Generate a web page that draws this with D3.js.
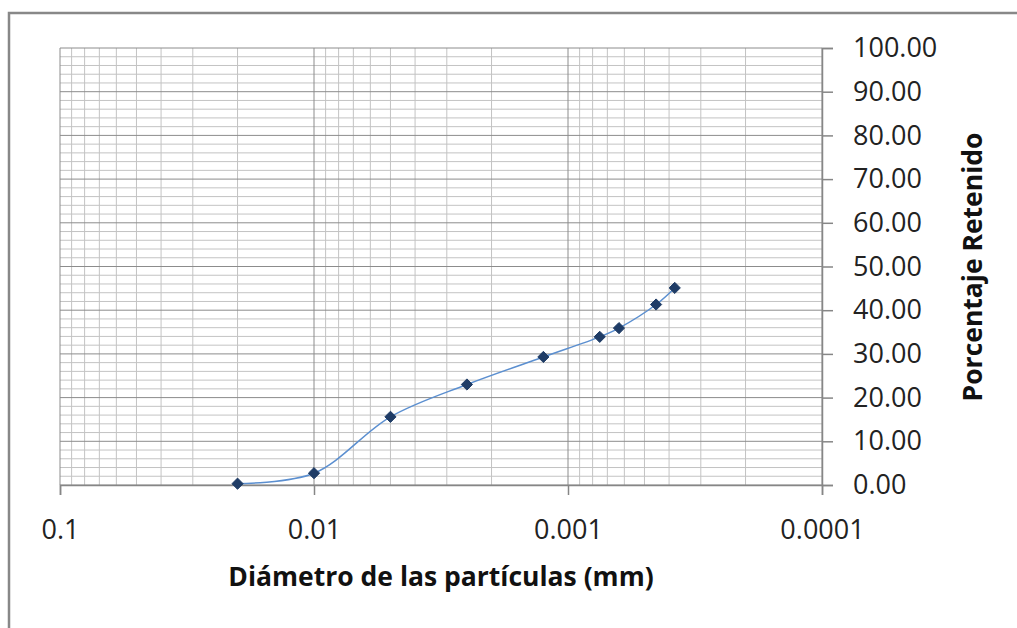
<!DOCTYPE html>
<html>
<head>
<meta charset="utf-8">
<script src="https://cdn.jsdelivr.net/npm/d3@7"></script>
<style>
  body { margin: 0; background: #fff; }
  svg { display: block; }
  .tick-label { font-family: "Open Sans", "Noto Sans", sans-serif; font-size: 27px; fill: #222; }
  .axis-title { font-family: "Open Sans", "Noto Sans", sans-serif; font-size: 26.5px; font-weight: bold; fill: #111; }
</style>
</head>
<body>
<div id="chart"></div>
<script>
// diameters (mm) and percent retained
var diameters = [0.02, 0.01, 0.005, 0.0025, 0.00125, 0.00075, 0.00063, 0.00045, 0.00038];
var retained = [0.3, 2.7, 15.6, 23.0, 29.3, 33.9, 35.9, 41.3, 45.1];
var xTickValues = [0.1, 0.01, 0.001, 0.0001];
var xTickLabels = ["0.1", "0.01", "0.001", "0.0001"];
var yTickValues = [0, 10, 20, 30, 40, 50, 60, 70, 80, 90, 100];

var width = 1017, height = 628;
var margin = {top: 48, right: 195, bottom: 143, left: 60};
var plotW = width - margin.left - margin.right,
    plotH = height - margin.top - margin.bottom;

var svg = d3.select('#chart').append('svg')
    .attr('width', width)
    .attr('height', height);

// chart frame (top and left edges visible)
svg.append('path')
    .attr('d', 'M9,' + height + 'V13H' + width)
    .attr('fill', 'none')
    .attr('stroke', '#888')
    .attr('stroke-width', 2.5);

var x = d3.scaleLog().domain([0.1, 0.0001]).range([0, plotW]);
var y = d3.scaleLinear().domain([0, 100]).range([plotH, 0]);

var main = svg.append('g')
    .attr('transform', 'translate(' + margin.left + ',' + margin.top + ')');

// minor grid
var minorX = [];
[0.01, 0.001, 0.0001].forEach(function (dec) {
    for (var k = 2; k <= 9; k++) minorX.push(dec * k);
});
var minorY = d3.range(0, 101, 2).filter(function (v) { return v % 10 !== 0; });

main.append('g').selectAll('line').data(minorX).enter().append('line')
    .attr('x1', function (d) { return x(d); }).attr('x2', function (d) { return x(d); })
    .attr('y1', 0).attr('y2', plotH)
    .attr('stroke', '#c3c3c3').attr('stroke-width', 1);

main.append('g').selectAll('line').data(minorY).enter().append('line')
    .attr('x1', 0).attr('x2', plotW)
    .attr('y1', function (d) { return y(d); }).attr('y2', function (d) { return y(d); })
    .attr('stroke', '#c3c3c3').attr('stroke-width', 1);

// major grid
main.append('g').selectAll('line').data(xTickValues).enter().append('line')
    .attr('x1', function (d) { return x(d); }).attr('x2', function (d) { return x(d); })
    .attr('y1', 0).attr('y2', plotH)
    .attr('stroke', '#8c8c8c').attr('stroke-width', 1);

main.append('g').selectAll('line').data(yTickValues).enter().append('line')
    .attr('x1', 0).attr('x2', plotW)
    .attr('y1', function (d) { return y(d); }).attr('y2', function (d) { return y(d); })
    .attr('stroke', '#8c8c8c').attr('stroke-width', 1);

// x axis (bottom)
var xAxis = d3.axisBottom(x)
    .tickValues(xTickValues)
    .tickFormat(function (d, i) { return xTickLabels[i]; })
    .tickSize(10)
    .tickPadding(25);

var gx = main.append('g')
    .attr('transform', 'translate(0,' + plotH + ')')
    .call(xAxis);
gx.select('.domain').attr('stroke', '#868686').attr('stroke-width', 1.5);
gx.selectAll('.tick line').attr('stroke', '#868686').attr('stroke-width', 1.5);
gx.selectAll('.tick text').attr('class', 'tick-label').attr('fill', null);

// y axis (right)
var yAxis = d3.axisRight(y)
    .tickValues(yTickValues)
    .tickFormat(d3.format('.2f'))
    .tickSize(11)
    .tickPadding(20);

var gy = main.append('g')
    .attr('transform', 'translate(' + plotW + ',0)')
    .call(yAxis);
gy.select('.domain').attr('stroke', '#868686').attr('stroke-width', 1.5);
gy.selectAll('.tick line').attr('stroke', '#868686').attr('stroke-width', 1.5);
gy.selectAll('.tick text').attr('class', 'tick-label').attr('fill', null);

// data
var data = diameters.map(function (d, i) { return [d, retained[i]]; });

var line = d3.line()
    .x(function (d) { return x(d[0]); })
    .y(function (d) { return y(d[1]); })
    .curve(d3.curveCatmullRom.alpha(0.5));

main.append('path')
    .datum(data)
    .attr('d', line)
    .attr('fill', 'none')
    .attr('stroke', '#5b8fd0')
    .attr('stroke-width', 1.5);

main.append('g').selectAll('path').data(data).enter().append('path')
    .attr('transform', function (d) { return 'translate(' + x(d[0]) + ',' + y(d[1]) + ')'; })
    .attr('d', d3.symbol().type(d3.symbolDiamond2).size(80))
    .attr('fill', '#1f3c66')
    .attr('stroke', '#1f3c66')
    .attr('stroke-width', 1);

// axis titles
svg.append('text')
    .attr('class', 'axis-title')
    .attr('x', 441)
    .attr('y', 586)
    .attr('text-anchor', 'middle')
    .text('Diámetro de las partículas (mm)');

svg.append('text')
    .attr('class', 'axis-title')
    .attr('transform', 'translate(982,267) rotate(-90)')
    .attr('text-anchor', 'middle')
    .text('Porcentaje Retenido');
</script>
</body>
</html>
